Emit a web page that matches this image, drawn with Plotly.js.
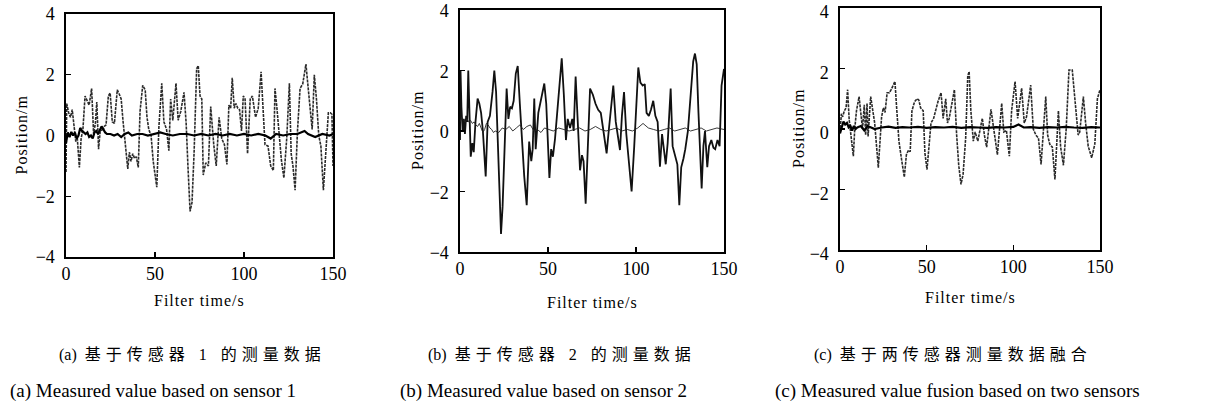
<!DOCTYPE html>
<html>
<head>
<meta charset="utf-8">
<script src="https://cdn.plot.ly/plotly-3.0.1.min.js"></script>
<style>html,body{margin:0;padding:0;background:#fff;}#chart{width:1208px;height:410px;}</style>
</head>
<body>
<div id="chart"></div>
<script>
// ---------- Panel (a): sensor 1 ----------
const timeA = [0, 0.4, 1.5, 2.5, 3.5, 4.5, 5.5, 6.3, 7.5, 8.5,
  9.5, 10.7, 12, 13, 14.4, 15.5, 16.5, 17.3, 18.3, 19.3,
  20.5, 21.5, 22.5, 23.8, 24.8, 26, 27.2, 28.8, 30, 31,
  32, 33, 34.7, 35.6, 36.5, 37.5, 38.5, 39.5, 40.6, 41.6,
  43.1, 44.5, 45.5, 46.5, 47.8, 49, 51, 52.2, 53.8, 55,
  56.5, 57.8, 58.8, 60, 61.8, 63, 64.5, 66.3, 67.5, 68.5,
  69.7, 70.8, 72, 73.4, 74.3, 75.3, 76.3, 77.1, 78.5, 80,
  81.3, 83, 84.4, 86, 87.5, 89, 90.4, 91.5, 92.5, 93.4,
  94.5, 95.5, 96.5, 97.5, 98.6, 99.6, 100.6, 102, 103.5, 104.7,
  106.5, 108, 109.6, 110.6, 111.8, 113.5, 115, 116.5, 117.4, 118.5,
  120, 121, 122.4, 124, 125.5, 126.5, 127.5, 128.7, 130, 131.5,
  133, 134.8, 136, 137, 138.3, 139.5, 140.7, 142, 143.2, 144.6,
  145.8, 147.4, 148.5, 149.4, 150];
const measuredA = [-1.2, 1.05, 0.75, 0.6, 0.85, 0.4, -0.2, -0.05, -1.05, -0.1,
  0.2, 1.3, 1.1, 1.0, 1.55, 0.05, 0.4, 1.1, -0.45, 0.2,
  0.15, 0.3, 0.35, 1.3, 1.4, 0.45, 0.4, 1.5, 1.35, 1.2,
  0.5, -0.05, -1.1, -0.55, -0.85, -0.6, -0.75, -0.7, -1.05, 0.8,
  1.65, 1.5, 0.6, 0.2, 0.0, -0.85, -1.7, 0.3, 1.72, 0.45,
  0.2, -0.5, 1.2, 0.5, 1.72, 0.5, 0.8, 1.42, 0.4, -1.0,
  -2.5, -2.2, -0.5, 2.2, 2.3, 1.3, 1.2, -1.3, -0.9, -1.0,
  0.95, -0.3, -1.0, 0.6, -0.1, -0.3, -0.95, 1.0, 0.9, 1.9,
  0.9, 1.05, 0.9, 0.85, 0.15, 1.3, 1.2, -0.6, 1.2, 1.3,
  0.6, 0.9, 2.1, 1.0, -0.3, -0.35, -1.0, -1.15, 1.55, 0.9,
  -0.3, -0.8, -1.4, -0.1, 1.72, -0.6, -1.0, -1.8, 0.1, 1.55,
  1.7, 2.35, 1.6, 0.9, 0.2, 2.0, 1.2, 0.0, -0.35, -1.8,
  -0.6, 0.75, 0.75, 0.7, -1.0];
const timeAf = [0, 1, 2, 3, 4, 5, 6, 7, 8, 9,
  10, 11, 12, 13, 14, 15, 16, 17, 18, 19,
  20, 21, 22, 23, 25, 27, 29, 31, 33, 35,
  37, 40, 43, 46, 50, 53, 56, 60, 64, 68,
  72, 76, 80, 84, 88, 92, 96, 100, 104, 108,
  112, 115, 118, 122, 126, 130, 134, 136, 140, 144,
  148, 150];
const estimateA = [-0.25, 0.1, -0.05, 0.12, 0.0, 0.1, -0.1, 0.0, 0.25, 0.15,
  0.1, 0.05, 0.1, -0.05, 0.0, -0.1, 0.1, 0.15, 0.05, 0.2,
  0.3, 0.2, 0.1, 0.05, 0.05, 0.0, 0.05, -0.05, 0.05, 0.1,
  0.0, 0.05, 0.05, 0.0, 0.05, 0.1, 0.05, 0.0, 0.05, 0.05,
  0.0, 0.05, 0.0, 0.05, 0.0, 0.05, 0.0, 0.05, 0.0, 0.05,
  0.0, -0.1, 0.05, 0.0, 0.05, 0.05, 0.15, 0.05, -0.05, 0.05,
  0.0, 0.05];

// ---------- Panel (b): sensor 2 ----------
const timeB = [0, 0.3, 0.8, 1.5, 2.2, 2.8, 3.5, 4.1, 4.7, 5.4,
  6.1, 7, 7.8, 8.8, 10, 11, 12, 13, 14.6, 15.7,
  17, 18.5, 19.5, 20.5, 21.5, 22.5, 23.3, 24.2, 25.3, 26.5,
  27.5, 28.5, 29.5, 30.5, 31.7, 32.8, 34, 35, 36.5, 37.9,
  38.8, 39.3, 40.5, 41.3, 42.2, 43, 44.5, 46, 47.9, 49,
  50.8, 51.8, 52.8, 54, 55.5, 57, 57.8, 59, 60.2, 61.2,
  62.5, 63.8, 64.6, 65.7, 66.8, 68.2, 69.3, 70.2, 71.4, 72.5,
  73.9, 75.5, 77, 78.5, 80, 81.5, 83.3, 84.5, 85.5, 87.1,
  88.5, 90.9, 92, 93.2, 94.5, 96, 97.5, 99, 100.3, 101.3,
  102.5, 103.8, 105, 106, 107.3, 108.5, 109.8, 111, 112.3, 113.6,
  114.8, 116.9, 118, 119.7, 120.8, 122, 123.5, 124.6, 125.7, 127,
  128, 129.5, 131, 132.5, 133.5, 134.5, 135.5, 136.3, 137.3, 138.3,
  139.2, 140.5, 141.5, 142.8, 144, 145, 146.3, 147.5, 148.6, 150];
const measuredB = [-0.3, 2.0, 0.8, 0.0, 0.4, -0.1, 0.5, 0.3, 2.0, 0.4,
  -0.85, -0.4, -0.7, 0.3, 1.07, 0.9, 0.6, 0.0, -1.5, 0.3,
  0.5, 1.3, 2.0, 1.3, -0.3, -2.0, -3.4, -2.5, -0.3, 1.4,
  0.4, 0.8, 0.75, 1.0, 1.9, 2.15, 0.9, -0.2, -1.5, -2.45,
  -1.4, -0.35, -1.0, -0.6, 1.07, -0.6, 0.6, 1.0, 1.57, 0.9,
  -1.55, -0.6, -0.85, -0.25, 0.7, 1.9, 2.4, 1.2, -0.3, 0.4,
  0.1, 0.4, 0.0, 1.8, 0.2, -1.3, -0.8, -1.0, -2.4, -0.5,
  1.4, 1.2, 0.9, 0.7, 0.6, 0.0, -0.74, 0.0, 0.5, 1.5,
  0.3, -0.63, 0.5, 1.29, -0.1, -1.0, -2.0, -0.5, 0.8, 2.1,
  1.6, 1.5, 1.55, 0.6, 0.5, 0.7, 1.0, 0.5, 0.3, -1.18,
  -0.1, -1.1, -0.4, 1.4, -0.5, -0.8, -1.1, -2.45, -1.2, -0.9,
  -0.6, 0.0, 1.2, 2.3, 2.56, 2.2, 0.6, -0.6, -1.9, -0.5,
  0.0, -1.2, -0.5, -0.3, -0.55, -0.6, -0.3, -0.5, 1.5, 2.05];
const timeBf = [0, 1, 2, 3, 4, 5, 6, 7, 8, 9,
  10, 11, 12, 13, 14, 15, 16, 17, 18, 19,
  20, 22, 24, 26, 28, 30, 32, 34, 36, 38,
  40, 42, 44, 46, 48, 50, 53, 56, 59, 62,
  65, 68, 71, 74, 77, 80, 83, 86, 89, 92,
  95, 98, 101, 104, 107, 110, 113, 116, 119, 122,
  125, 128, 131, 134, 137, 140, 143, 146, 150];
const estimateB = [0.3, 0.45, 0.35, 0.3, 0.4, 0.3, 0.35, 0.25, 0.3, 0.2,
  0.15, 0.25, 0.1, -0.05, 0.05, 0.25, 0.2, 0.1, 0.05, -0.05,
  0.0, -0.05, 0.1, 0.05, 0.15, 0.0, 0.1, 0.2, 0.05, 0.15,
  0.2, 0.0, 0.05, -0.05, 0.1, 0.05, 0.0, 0.1, 0.05, 0.0,
  0.05, 0.1, 0.0, 0.05, 0.15, 0.05, 0.0, 0.05, 0.1, 0.0,
  0.05, 0.0, 0.1, 0.25, 0.1, 0.05, 0.0, 0.05, 0.1, 0.0,
  0.05, 0.1, 0.0, 0.05, 0.1, 0.0, 0.05, 0.1, 0.05];

// ---------- Panel (c): fusion ----------
const timeC = [0, 0.8, 1.5, 2.5, 3.5, 4.4, 5.3, 6.3, 7.7, 8.5,
  9.5, 11, 12, 13, 14, 14.8, 15.6, 16.2, 17.7, 19,
  20, 22.1, 23, 24, 25, 26, 27.2, 28.5, 29.5, 31.7,
  32.8, 34, 35.5, 37.1, 38.3, 39.5, 40.5, 41.5, 43, 44.5,
  45.5, 46.5, 48, 49, 50.2, 51.5, 52.5, 54, 55.5, 56.5,
  58.3, 59.5, 61, 62, 63, 64.5, 66, 67.3, 68.5, 69.8,
  71, 72.5, 73.7, 74.5, 75.5, 76.9, 78, 79.5, 82.1, 83.3,
  84.6, 87.1, 89, 90.8, 93.3, 94.5, 96, 97.7, 99, 101,
  102.5, 104.8, 106.3, 107.6, 110, 111.5, 113, 114.5, 116, 118.7,
  119.8, 121, 122.5, 124, 126, 127.3, 128.9, 130.5, 132.1, 134,
  135.5, 137.4, 138.3, 140.4, 141.7, 143.2, 145.2, 147, 148.5, 150];
const measuredC = [-0.1, 0.5, 0.4, 0.6, 0.7, 1.3, 0.3, -0.2, -0.9, 0.0,
  0.6, 1.07, 0.5, 0.0, 0.8, -0.2, 0.85, -0.25, 1.07, 0.6,
  0.2, -1.28, -0.3, 0.4, 0.7, 0.55, 1.2, 1.2, 1.3, 1.57,
  0.6, -0.4, -1.0, -1.59, -0.85, -0.7, -0.75, 0.6, 0.9, 1.0,
  0.95, 0.7, 0.6, -0.8, -1.34, -0.5, 0.2, 0.35, 0.7, 0.9,
  1.2, 0.35, 1.0, 0.2, 0.35, 0.8, 1.3, -0.2, -1.2, -1.83,
  -1.5, -0.3, 1.75, 1.9, 0.6, -0.4, -0.1, -0.4, 0.35, -0.2,
  -0.6, 0.65, -0.2, -0.85, 0.85, -0.1, -0.05, -0.9, 0.6, 1.57,
  0.35, 1.35, 0.2, 0.4, 1.45, 0.0, -0.2, -0.3, -1.17, 1.07,
  -0.2, -0.5, -0.6, -1.67, 0.6, -0.6, -1.2, 0.0, 1.95, 1.95,
  1.0, -0.2, -0.1, 1.07, 0.2, -0.57, -0.95, -0.5, 1.0, 1.3];
const timeCf = [0, 1, 2, 3, 4, 5, 6, 7, 8, 9,
  10, 12, 14, 16, 18, 20, 24, 28, 32, 36,
  40, 45, 50, 55, 60, 65, 70, 75, 80, 85,
  90, 95, 100, 103, 106, 110, 115, 120, 125, 130,
  135, 140, 145, 150];
const estimateC = [-0.15, 0.1, 0.25, 0.15, 0.2, 0.05, 0.1, -0.05, 0.1, 0.0,
  0.05, 0.1, -0.05, 0.1, 0.05, 0.0, 0.05, 0.08, 0.04, 0.06,
  0.05, 0.07, 0.04, 0.06, 0.05, 0.07, 0.04, 0.06, 0.05, 0.04,
  0.06, 0.05, 0.07, 0.15, 0.05, 0.06, 0.04, 0.06, 0.05, 0.07,
  0.05, 0.04, 0.06, 0.05];

const xTicks = [0, 50, 100, 150];
const yTicks = [-4, -2, 0, 2, 4];
const yTitle = 'Position/m';
const xTitle = 'Filter time/s';
const captionLabels = ['(a)', '(b)', '(c)'];
const captionsZh = ['基于传感器 1 的测量数据', '基于传感器 2 的测量数据', '基于两传感器测量数据融合'];
const captionsEn = ['(a) Measured value based on sensor 1', '(b) Measured value based on sensor 2', '(c) Measured value fusion based on two sensors'];

const W = 1208, H = 410;
const SERIF = 'Liberation Serif, Times New Roman, serif';
const ZH = 'Liberation Serif, Noto Sans CJK SC, serif';

const traces = [
  {x: timeA, y: measuredA, xaxis: 'x', yaxis: 'y', mode: 'lines',
   line: {color: '#2a2a2a', width: 1.6, dash: '3px,1px'}},
  {x: timeAf, y: estimateA, xaxis: 'x', yaxis: 'y', mode: 'lines',
   line: {color: '#000', width: 2.2}},
  {x: timeB, y: measuredB, xaxis: 'x2', yaxis: 'y2', mode: 'lines',
   line: {color: '#111', width: 1.8}},
  {x: timeBf, y: estimateB, xaxis: 'x2', yaxis: 'y2', mode: 'lines',
   line: {color: '#222', width: 0.9}},
  {x: timeC, y: measuredC, xaxis: 'x3', yaxis: 'y3', mode: 'lines',
   line: {color: '#2a2a2a', width: 1.6, dash: '3px,1px'}},
  {x: timeCf, y: estimateC, xaxis: 'x3', yaxis: 'y3', mode: 'lines',
   line: {color: '#000', width: 2.2}}
];

function xa(l, r, anchor) {
  return {domain: [l / W, r / W], range: [0, 150], anchor: anchor,
    tickvals: xTicks, ticks: 'inside', ticklen: 5, tickwidth: 1.2, tickcolor: '#000',
    showline: true, mirror: true, linecolor: '#000', linewidth: 1.6,
    showgrid: false, zeroline: false, fixedrange: true, ticklabeloverflow: 'allow',
    tickfont: {family: SERIF, size: 18, color: '#000'}};
}
function ya(top, bottom, anchor, shift) {
  return {domain: [1 - bottom / H, 1 - top / H], range: [-4, 4], anchor: anchor,
    tickvals: yTicks, ticks: 'inside', ticklen: 5, tickwidth: 1.2, tickcolor: '#000',
    showline: true, mirror: true, linecolor: '#000', linewidth: 1.6,
    showgrid: false, zeroline: false, fixedrange: true, ticklabelstandoff: 6,
    ticklabeloverflow: 'allow', ticklabelshift: shift,
    tickfont: {family: SERIF, size: 18, color: '#000'}};
}

const panels = [
  {l: 66, r: 333, t: 14, b: 257, ytx: 21, xty: 300, zhx: 192, enx: 153, shift: 0},
  {l: 460, r: 724, t: 10, b: 252, ytx: 417, xty: 302, zhx: 562, enx: 543, shift: 1},
  {l: 840, r: 1100, t: 8, b: 250, ytx: 798, xty: 297, zhx: 953, enx: 957, shift: 4}
];

const annotations = [];
panels.forEach((p, i) => {
  annotations.push({xref: 'paper', yref: 'paper', x: p.ytx / W, y: 1 - ((p.t + p.b) / 2) / H,
    text: '<span style="letter-spacing:1px">' + yTitle + '</span>', textangle: -90, showarrow: false,
    xanchor: 'center', yanchor: 'middle', font: {family: SERIF, size: 16, color: '#000'}});
  annotations.push({xref: 'paper', yref: 'paper', x: ((p.l + p.r) / 2) / W, y: 1 - p.xty / H,
    text: '<span style="letter-spacing:1px">' + xTitle + '</span>', showarrow: false,
    xanchor: 'center', yanchor: 'middle', font: {family: SERIF, size: 16, color: '#000'}});
  annotations.push({xref: 'paper', yref: 'paper', x: p.zhx / W, y: 1 - 355 / H,
    text: captionLabels[i] + '&nbsp;&nbsp;<span style="letter-spacing:5px">' + captionsZh[i] + '</span>', showarrow: false,
    xanchor: 'center', yanchor: 'middle', font: {family: ZH, size: 16, color: '#000'}});
  annotations.push({xref: 'paper', yref: 'paper', x: p.enx / W, y: 1 - 391 / H,
    text: captionsEn[i], showarrow: false,
    xanchor: 'center', yanchor: 'middle', font: {family: SERIF, size: 19, color: '#000'}});
});

const layout = {
  width: W, height: H, margin: {l: 0, r: 0, t: 0, b: 0},
  paper_bgcolor: '#fff', plot_bgcolor: '#fff', showlegend: false,
  xaxis: xa(panels[0].l, panels[0].r, 'y'),
  yaxis: ya(panels[0].t, panels[0].b, 'x', panels[0].shift),
  xaxis2: xa(panels[1].l, panels[1].r, 'y2'),
  yaxis2: ya(panels[1].t, panels[1].b, 'x2', panels[1].shift),
  xaxis3: xa(panels[2].l, panels[2].r, 'y3'),
  yaxis3: ya(panels[2].t, panels[2].b, 'x3', panels[2].shift),
  annotations: annotations
};

Plotly.newPlot('chart', traces, layout, {staticPlot: true, displayModeBar: false});
</script>
</body>
</html>
